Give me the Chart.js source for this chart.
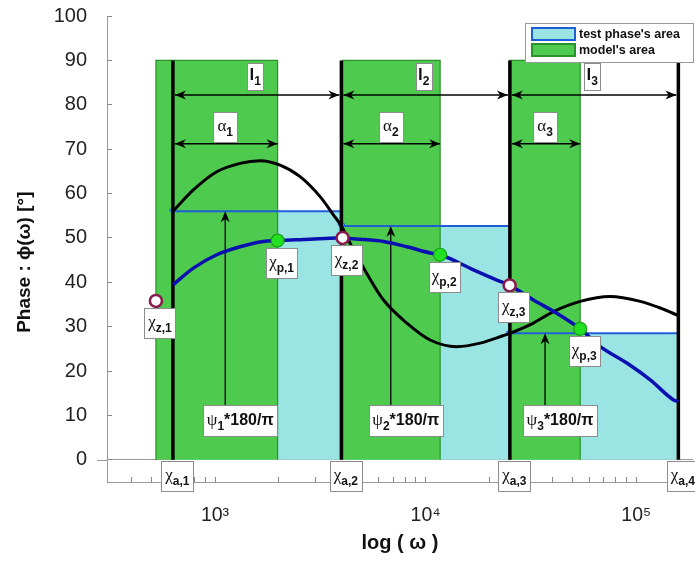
<!DOCTYPE html>
<html><head><meta charset="utf-8">
<script src="https://cdn.jsdelivr.net/npm/chart.js@4.4.0/dist/chart.umd.min.js"></script>
<style>html,body{margin:0;padding:0;background:#fff;}#wrap{width:695px;height:566px;position:relative;}</style>
</head><body><div id="wrap"><canvas id="c"></canvas></div>
<script>
// ---- data ----
const chiA = [631, 3981, 25119, 158489];                 // χa,1 .. χa,4 (area limits)
const chiZ = [{x:524,y:35.8},{x:4034,y:50.0},{x:25060,y:39.3}];  // zeros χz,i
const chiP = [{x:1982,y:49.4},{x:11720,y:46.2},{x:54200,y:29.5}]; // poles χp,i
const testPhase = [56.0, 52.7, 28.5];                    // ψi*180/π
const modelPhase = [90, 90, 90];                         // model's area height
const blackCurve = [[631,56.0],[789,60.8],[1019,64.9],[1314,66.8],[1637,67.4],[2037,66.4],[2535,63.8],[3155,59.3],[3648,55.2],[3981,52.7],[4378,48.8],[5255,42.0],[6310,36.0],[8147,30.8],[10500,27.0],[14060,25.5],[18150,26.3],[23420,28.0],[25119,28.5],[32500,30.8],[40450,33.4],[54200,35.7],[75220,36.8],[104500,35.7],[130100,34.2],[158489,32.5]];
const blueCurve = [[631,39.4],[789,43.2],[1019,46.2],[1314,48.0],[1695,49.2],[1982,49.4],[2827,49.7],[3787,50.0],[4884,49.7],[6310,49.2],[8147,48.0],[10500,46.6],[11720,46.2],[16870,42.8],[21780,40.5],[25060,39.3],[32500,36.0],[41980,33.0],[54200,29.5],[67450,25.5],[90290,21.8],[116600,18.0],[150400,13.5],[158489,13.1]];
const chiALabels = ['a,1','a,2','a,3','a,4'];
const chiZLabels = ['z,1','z,2','z,3'];
const chiPLabels = ['p,1','p,2','p,3'];
const indexLabels = ['1','2','3'];
const yTickValues = [0,10,20,30,40,50,60,70,80,90,100];
const xMajorTicks = [1000, 10000, 100000];
const xMajorLabels = ['10³','10⁴','10⁵'];
const xMinorTicks = [400,500,600,700,800,900,2000,3000,4000,5000,6000,7000,8000,9000,20000,30000,40000,50000,60000,70000,80000,90000];
const legendLabels = ["test phase's area", "model's area"];

// ---- styles ----
const C = {
  cyan:'#9be4e4', green:'#4ecb4e', greenEdge:'#2a922a', blueTop:'#1f5fd6',
  blueCurve:'#0a10b0', black:'#000', zeroEdge:'#8a1a4e', poleFill:'#22e022', poleEdge:'#16a016', axis:'#999'
};
const SANS = '"Liberation Sans", Arial, sans-serif';
const SERIF = '"Liberation Serif", "DejaVu Serif", serif';

const datasets = [];
for (let i = 0; i < 3; i++) {
  datasets.push({ role:'cyan', data:[{x:chiA[i],y:testPhase[i]},{x:chiA[i+1],y:testPhase[i]}],
    showLine:true, fill:'origin', backgroundColor:C.cyan, borderWidth:0, pointRadius:0, order:20 });
}
for (let i = 0; i < 3; i++) {
  datasets.push({ role:'green', data:[{x:chiZ[i].x,y:0},{x:chiZ[i].x,y:modelPhase[i]},{x:chiP[i].x,y:modelPhase[i]},{x:chiP[i].x,y:0}],
    showLine:true, fill:'origin', backgroundColor:C.green, borderColor:C.greenEdge, borderWidth:1.2, pointRadius:0, order:19 });
}
for (let i = 0; i < 3; i++) {
  datasets.push({ role:'top', data:[{x:chiA[i],y:testPhase[i]},{x:chiA[i+1],y:testPhase[i]}],
    showLine:true, borderColor:C.blueTop, borderWidth:2, pointRadius:[4,0], pointStyle:'triangle', rotation:180,
    pointBackgroundColor:'#86ccff', pointBorderColor:C.blueTop, pointBorderWidth:1, order:18 });
}
for (let i = 0; i < 4; i++) {
  datasets.push({ role:'alim', overlayAfter: i===3, data:[{x:chiA[i],y:0},{x:chiA[i],y:modelPhase[0]}],
    showLine:true, borderColor:C.black, borderWidth:3.5, pointRadius:0, order:17 - i*0.01 });
}
datasets.push({ role:'black', data: blackCurve.map(p=>({x:p[0],y:p[1]})), showLine:true, borderColor:C.black,
  borderWidth:3, pointRadius:0, cubicInterpolationMode:'monotone', order:5 });
datasets.push({ role:'blue', data: blueCurve.map(p=>({x:p[0],y:p[1]})), showLine:true, borderColor:C.blueCurve,
  borderWidth:3.5, pointRadius:0, cubicInterpolationMode:'monotone', order:4 });
datasets.push({ role:'zeros', data: chiZ, showLine:false, pointRadius:6, pointBackgroundColor:'#fff',
  pointBorderColor:C.zeroEdge, pointBorderWidth:2.5, order:2 });
datasets.push({ role:'poles', data: chiP, showLine:false, pointRadius:6.5, pointBackgroundColor:C.poleFill,
  pointBorderColor:C.poleEdge, pointBorderWidth:1.2, order:1 });

function box(ctx, cx, top, w, h, parts, baseOff) {
  ctx.save();
  const L = Math.round(cx - w/2) + 0.5, T = Math.round(top) + 0.5;
  ctx.fillStyle = '#fff'; ctx.fillRect(L, T, w, h);
  ctx.strokeStyle = '#8c8c8c'; ctx.lineWidth = 1; ctx.strokeRect(L, T, w, h);
  let total = 0;
  parts.forEach(p => { ctx.font = p.f; p.w = ctx.measureText(p.t).width; total += p.w; });
  let x = cx - total/2; const base = top + h/2 + (baseOff || 4);
  ctx.fillStyle = '#111'; ctx.textAlign = 'left'; ctx.textBaseline = 'alphabetic';
  parts.forEach(p => { ctx.font = p.f; ctx.fillText(p.t, x, base + (p.dy || 0)); x += p.w; });
  ctx.restore();
}
function arrowHead(ctx, x, y, dir) { // dir: 'l','r','u'
  const L = 11, W = 4.5;
  ctx.beginPath();
  if (dir === 'r') { ctx.moveTo(x, y); ctx.lineTo(x - L, y - W); ctx.lineTo(x - L*0.7, y); ctx.lineTo(x - L, y + W); }
  else if (dir === 'l') { ctx.moveTo(x, y); ctx.lineTo(x + L, y - W); ctx.lineTo(x + L*0.7, y); ctx.lineTo(x + L, y + W); }
  else { ctx.moveTo(x, y); ctx.lineTo(x - W, y + L); ctx.lineTo(x, y + L*0.7); ctx.lineTo(x + W, y + L); }
  ctx.closePath(); ctx.fill();
}
const G = (t) => ({t, f:'17px ' + SERIF});
const SUB = (t) => ({t, f:'bold 12px ' + SANS, dy:5});

const overlay = {
  id:'overlay',
  afterDatasetDraw(chart, args) {
    if (!chart.data.datasets[args.index].overlayAfter) return;
    const {ctx, scales:{x, y}} = chart;
    ctx.save(); ctx.strokeStyle = '#000'; ctx.fillStyle = '#000';
    for (let i = 0; i < 3; i++) {
      const xa = x.getPixelForValue(chiA[i]), xb = x.getPixelForValue(chiA[i+1]), xp = x.getPixelForValue(chiP[i].x);
      const yl = y.getPixelForValue(82.2), ya = y.getPixelForValue(71.2);
      ctx.lineWidth = 1.5;
      ctx.beginPath(); ctx.moveTo(xa + 2, yl); ctx.lineTo(xb - 2, yl); ctx.stroke();
      arrowHead(ctx, xa + 2, yl, 'l'); arrowHead(ctx, xb - 2, yl, 'r');
      ctx.beginPath(); ctx.moveTo(xa + 2, ya); ctx.lineTo(xp, ya); ctx.stroke();
      arrowHead(ctx, xa + 2, ya, 'l'); arrowHead(ctx, xp, ya, 'r');
      const xm = (xa + xp) / 2, yt = y.getPixelForValue(testPhase[i]), yb = y.getPixelForValue(12.3);
      ctx.lineWidth = 1.3;
      ctx.beginPath(); ctx.moveTo(xm, yb); ctx.lineTo(xm, yt + 4); ctx.stroke();
      arrowHead(ctx, xm, yt, 'u');
    }
    ctx.restore();
  },
  afterDatasetsDraw(chart) {
    const {ctx, scales:{x, y}, chartArea:ca} = chart;
    ctx.save(); ctx.strokeStyle = '#999'; ctx.lineWidth = 1;
    const y0 = Math.round(y.getPixelForValue(0)) + 0.5;
    ctx.beginPath(); ctx.moveTo(ca.left - 10, y0); ctx.lineTo(ca.left, y0); ctx.stroke(); ctx.restore();
    for (let i = 0; i < 3; i++) {
      const xa = x.getPixelForValue(chiA[i]), xb = x.getPixelForValue(chiA[i+1]), xp = x.getPixelForValue(chiP[i].x);
      box(ctx, (xa + xb)/2 - 2, y.getPixelForValue(90) + 3, 16, 27, [{t:'l', f:'bold 17px ' + SANS}, SUB(indexLabels[i])], 3);
      box(ctx, (xa + xp)/2, y.getPixelForValue(78.4), 24, 30, [G('α'), SUB(indexLabels[i])]);
      const xm = (xa + xp)/2;
      box(ctx, xm + 15, y.getPixelForValue(12.3), 74, 31,
        [G('ψ'), SUB(indexLabels[i]), {t:'*180/π', f:'bold 16px ' + SANS}]);
      const zx = x.getPixelForValue(chiZ[i].x), zy = y.getPixelForValue(chiZ[i].y);
      box(ctx, zx + 4, zy + 7, 31, 30, [G('χ'), SUB(chiZLabels[i])]);
      const px = x.getPixelForValue(chiP[i].x), py = y.getPixelForValue(chiP[i].y);
      box(ctx, px + 4, py + 7, 31, 30, [G('χ'), SUB(chiPLabels[i])]);
    }
    for (let i = 0; i < 4; i++) {
      const xa = x.getPixelForValue(chiA[i]);
      box(ctx, xa + 4.5, y.getPixelForValue(0) + 1, 32, 30, [G('χ'), SUB(chiALabels[i])]);
    }
    ctx.save();
    const lx = ca.right - 168, ly = ca.top + 7;
    ctx.fillStyle = '#fff'; ctx.fillRect(lx + 0.5, ly + 0.5, 168, 39);
    ctx.strokeStyle = '#999'; ctx.lineWidth = 1; ctx.strokeRect(lx + 0.5, ly + 0.5, 168, 39);
    const sw = [[C.cyan, C.blueTop], [C.green, C.greenEdge]];
    ctx.font = 'bold 12.5px ' + SANS; ctx.textBaseline = 'middle'; ctx.textAlign = 'left';
    for (let k = 0; k < 2; k++) {
      const sy = ly + 5 + k * 16;
      ctx.fillStyle = sw[k][0]; ctx.fillRect(lx + 7, sy, 43, 12);
      ctx.strokeStyle = sw[k][1]; ctx.lineWidth = 2; ctx.strokeRect(lx + 7, sy, 43, 12);
      ctx.fillStyle = '#111'; ctx.fillText(legendLabels[k], lx + 54, sy + 6.5);
    }
    ctx.restore();
  }
};

new Chart(document.getElementById('c'), {
  type:'scatter',
  data:{ datasets },
  options:{
    responsive:true, maintainAspectRatio:false, animation:false,
    layout:{ autoPadding:false, padding:{ top:16, right:2, left:0, bottom:0 } },
    plugins:{ legend:{display:false}, tooltip:{enabled:false} },
    scales:{
      x:{
        type:'logarithmic', min:307, max:186000,
        afterBuildTicks: s => { s.ticks = xMinorTicks.concat(xMajorTicks).sort((a,b)=>a-b).map(v => ({value:v, major: xMajorTicks.includes(v)})); },
        afterFit: s => { s.height = 84; s.paddingLeft = 0; s.paddingRight = 0; },
        ticks:{ autoSkip:false, maxRotation:0, minRotation:0, padding:27, color:'#222',
          font:{ family:SANS, size:19.5 },
          callback: (v) => { const k = xMajorTicks.indexOf(v); return k >= 0 ? xMajorLabels[k] : ''; } },
        grid:{ drawOnChartArea:false, tickLength:-5, tickColor:'#888' },
        border:{ color:C.axis, width:1 },
        title:{ display:true, text:'log ( ω )', color:'#111', font:{ family:SANS, size:20, weight:'bold' }, padding:{top:0, bottom:11} }
      },
      y:{
        type:'linear', min:-5, max:100,
        afterBuildTicks: s => { s.ticks = [-5].concat(yTickValues).map(v => ({value:v})); },
        afterFit: s => { s.width = 107; s.paddingTop = 11; s.paddingBottom = 0; },
        ticks:{ padding:25, color:'#222', font:{ family:SANS, size:20 }, callback: v => v < 0 ? '' : String(v) },
        grid:{ color: c => (c.tick && c.tick.value === 0) ? '#999' : 'rgba(0,0,0,0)',
               tickColor: c => (c.tick && c.tick.value < 0) ? 'rgba(0,0,0,0)' : '#888', tickLength:-5 },
        border:{ color:C.axis, width:1 },
        title:{ display:true, text:'Phase : ϕ(ω) [°]     ', color:'#111', font:{ family:SANS, size:19, weight:'bold' }, padding:{top:13, bottom:0} }
      }
    }
  },
  plugins:[overlay]
});
</script>
</body></html>
